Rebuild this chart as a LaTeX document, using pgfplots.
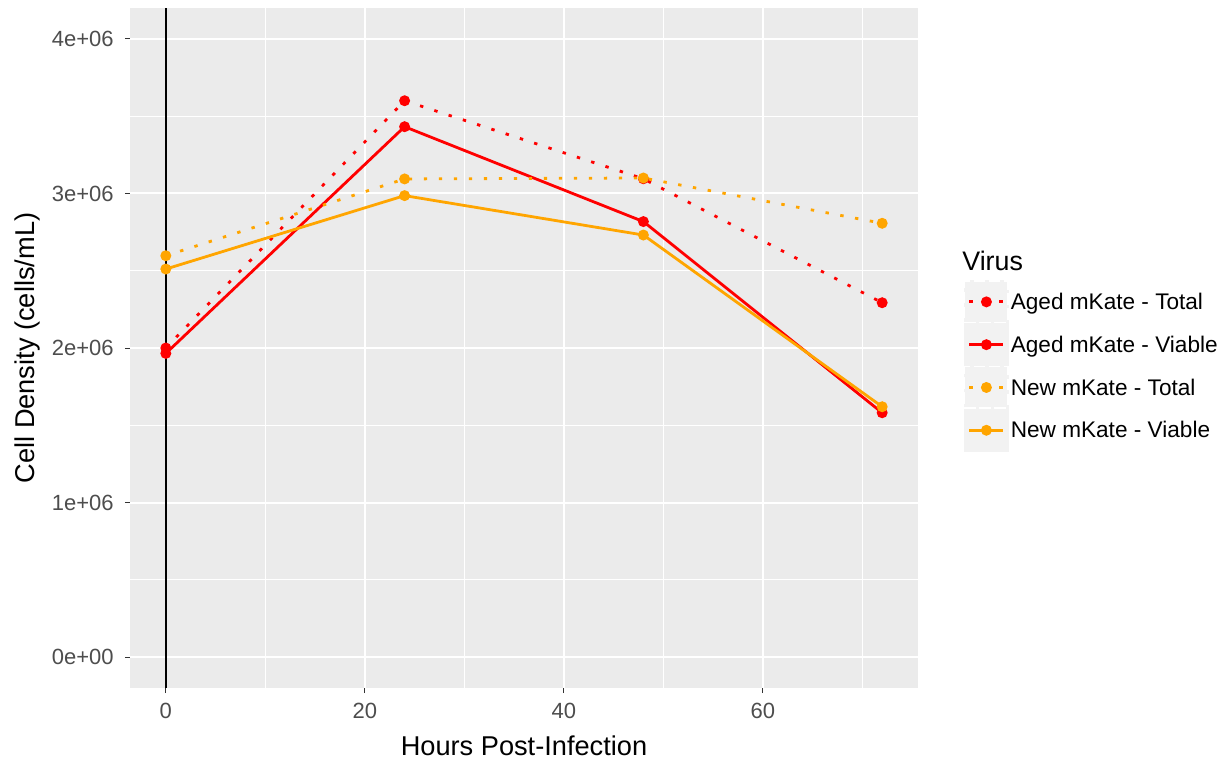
\documentclass[border=0pt]{standalone}
\usepackage{pgfplots}
\pgfplotsset{compat=1.18}
\usepackage{fontspec}
\setmainfont{Liberation Sans}
\definecolor{panelbg}{HTML}{EBEBEB}
\definecolor{keybg}{HTML}{F2F2F2}
\definecolor{ticklab}{HTML}{4D4D4D}
\definecolor{tickcol}{HTML}{333333}
\definecolor{ggorange}{HTML}{FFA500}
\definecolor{ggred}{HTML}{FF0000}
\begin{document}
\begin{tikzpicture}
\useasboundingbox (-65pt,-36.5pt) rectangle (547pt,344pt);
\begin{axis}[
  scale only axis, width=394pt, height=340pt,
  xmin=-3.6, xmax=75.6, ymin=-0.2e6, ymax=4.2e6,
  clip=false,
  axis background/.style={fill=panelbg},
  axis x line*=bottom, axis y line*=left,
  axis line style={draw=none},
  xtick={0,20,40,60}, xticklabels={0,20,40,60},
  ytick={0,1e6,2e6,3e6,4e6},
  yticklabels={0e+00,1e+06,2e+06,3e+06,4e+06},
  scaled y ticks=false, scaled x ticks=false,
  minor xtick={10,30,50,70}, minor ytick={0.5e6,1.5e6,2.5e6,3.5e6},
  grid=both,
  major grid style={white, line width=1pt},
  minor grid style={white, line width=0.5pt},
  tick align=outside, major tick length=2.5pt, minor tick length=0pt,
  tick style={tickcol, line width=0.5pt},
  ticklabel style={font=\fontsize{11}{13}\selectfont, text=ticklab},
  xticklabel style={inner sep=0pt, anchor=north, yshift=-5pt},
  yticklabel style={inner sep=0pt, anchor=east, xshift=-5.5pt},
  xlabel={Hours Post-Infection},
  ylabel={Cell Density (cells/mL)},
  label style={font=\fontsize{13.6}{16}\selectfont},
  xlabel style={at={(axis description cs:0.5,0)}, anchor=center, yshift=-29pt},
  ylabel style={at={(axis description cs:0,0.5)}, anchor=center, yshift=51.5pt},
  legend cell align=left,
  legend style={at={(axis description cs:1.0584,0.5993)}, anchor=north west,
    draw=none, fill=none, inner sep=0pt, outer sep=0pt,
    /tikz/row sep=0pt, /tikz/column sep=-1pt,
    font=\fontsize{11.3}{13}\selectfont},
  legend image code/.code={
    \fill[keybg] (-2pt,-9.5pt) rectangle (19pt,10.5pt);
    \draw[mark repeat=2,mark phase=2,#1] plot coordinates {(0pt,0.5pt)(8.5pt,0.5pt)(17pt,0.5pt)};
  },
  mark size=2pt,
]
\addplot[black, line width=0.9pt, forget plot] coordinates {(0,-0.2e6) (0,4.2e6)};
\addplot[ggred, line width=1.4pt, dash pattern=on 1.7pt off 5.8pt, mark=*, mark options={solid}]
  coordinates {(0,2.0e6) (24,3.6e6) (48,3.095e6) (72,2.293e6)};
\addlegendentry{Aged mKate - Total}
\addplot[ggred, line width=1.4pt, mark=*, mark options={solid}]
  coordinates {(0,1.965e6) (24,3.432e6) (48,2.818e6) (72,1.581e6)};
\addlegendentry{Aged mKate - Viable}
\addplot[ggorange, line width=1.4pt, dash pattern=on 1.7pt off 5.8pt, mark=*, mark options={solid}]
  coordinates {(0,2.597e6) (24,3.094e6) (48,3.10e6) (72,2.807e6)};
\addlegendentry{New mKate - Total}
\addplot[ggorange, line width=1.4pt, mark=*, mark options={solid}]
  coordinates {(0,2.511e6) (24,2.986e6) (48,2.731e6) (72,1.62e6)};
\addlegendentry{New mKate - Viable}
\node[anchor=west, inner sep=0pt, font=\fontsize{13.4}{16}\selectfont] at (axis description cs:1.0558,0.6279) {Virus};
\end{axis}
\end{tikzpicture}
\end{document}
